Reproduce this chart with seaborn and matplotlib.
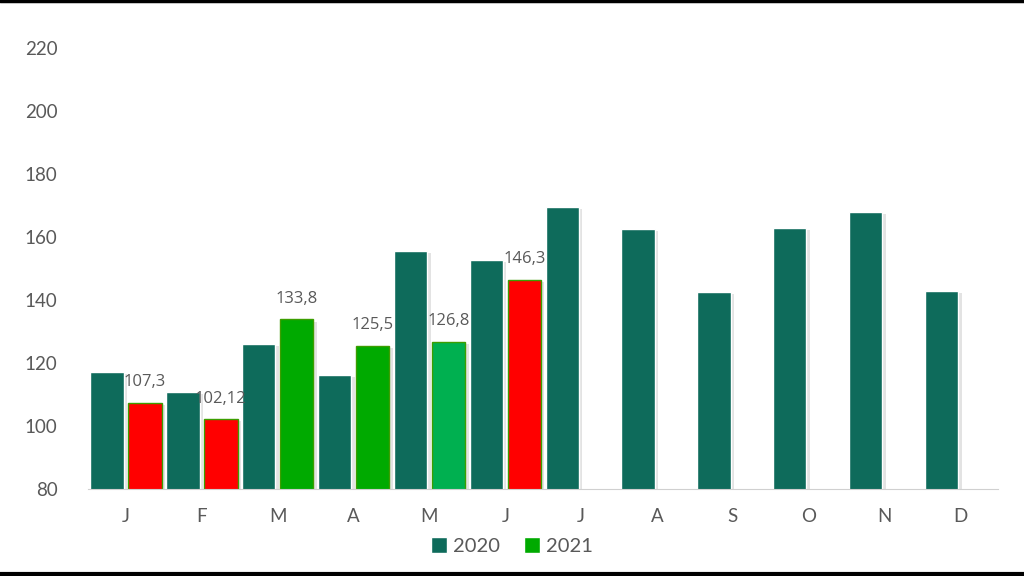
import numpy as np
import pandas as pd
import seaborn as sns
import matplotlib.pyplot as plt
from matplotlib.lines import Line2D
from matplotlib.patches import Patch
import matplotlib.patheffects as pe

months = ['J', 'F', 'M', 'A', 'M', 'J', 'J', 'A', 'S', 'O', 'N', 'D']
vals_2020 = [117.1, 110.8, 126.0, 116.2, 155.6, 152.7, 169.5, 162.5, 142.5, 162.9, 167.9, 142.9]
vals_2021 = [107.3, 102.12, 133.8, 125.5, 126.8, 146.3]
labels_2021 = ['107,3', '102,12', '133,8', '125,5', '126,8', '146,3']
colors_2021 = ['#FF0000', '#FF0000', '#00AA00', '#00AA00', '#00B050', '#FF0000']

c2020 = '#0E6B5B'
c2021_legend = '#00AA00'
tick_col = '#595959'

month_pos = list(range(12))
df = pd.DataFrame({
    'pos': month_pos * 2,
    'year': ['2020'] * 12 + ['2021'] * 12,
    'value': vals_2020 + vals_2021 + [np.nan] * (12 - len(vals_2021)),
})

sns.set_style('white')
plt.rcParams['font.family'] = ['Lato', 'DejaVu Sans']

fig = plt.figure(figsize=(10.24, 5.76), dpi=100)
ax = fig.add_axes([0.086, 0.151, 0.889, 0.766])

sns.barplot(data=df, x='pos', y='value', hue='year', palette=[c2020, c2021_legend],
            width=1.0, gap=0.12, ax=ax, legend=False, saturation=1)

shadow = [pe.SimplePatchShadow(offset=(2.5, -1.5), shadow_rgbFace='#909090', alpha=0.25), pe.Normal()]
for b in ax.containers[0]:
    b.set_path_effects(shadow)
for i, b in enumerate(ax.containers[1]):
    if i < len(vals_2021):
        b.set_facecolor(colors_2021[i])
        b.set_edgecolor('#3C9E00')
        b.set_linewidth(1)
        b.set_path_effects(shadow)
        ax.text(b.get_x() + b.get_width() / 2, b.get_height() + 4, labels_2021[i],
                ha='center', va='bottom', fontsize=12, color=tick_col, family=['Open Sans', 'DejaVu Sans'])

ax.set_ylim(80, 220)
ax.set_xlim(-0.5, 11.5)
ax.set_yticks(range(80, 221, 20))
ax.set_xticks(month_pos)
ax.set_xticklabels(months)
ax.set_xticks(np.arange(-0.5, 12, 1), minor=True)
ax.tick_params(axis='x', which='major', length=0, pad=14, labelsize=13.5, labelcolor=tick_col)
ax.tick_params(axis='x', which='minor', length=5, color='#D0D0D0', direction='out')
ax.tick_params(axis='y', length=0, pad=22, labelsize=13.5, labelcolor=tick_col)
ax.set_xlabel('')
ax.set_ylabel('')
for s in ['top', 'right', 'left']:
    ax.spines[s].set_visible(False)
ax.spines['bottom'].set_color('#D0D0D0')

handles = [Patch(facecolor=c2020, label='2020'), Patch(facecolor=c2021_legend, label='2021')]
fig.legend(handles=handles, loc='center', bbox_to_anchor=(0.5, 0.052), ncol=2, frameon=False,
           fontsize=14.5, labelcolor=tick_col, handlelength=0.8, handleheight=0.8,
           handletextpad=0.3, columnspacing=1.2)

fig.add_artist(Line2D([0, 1], [0.998, 0.998], color='black', lw=2.5, transform=fig.transFigure))
fig.add_artist(Line2D([0, 1], [0.003, 0.003], color='black', lw=3, transform=fig.transFigure))

fig.savefig('out.png', dpi=100)
